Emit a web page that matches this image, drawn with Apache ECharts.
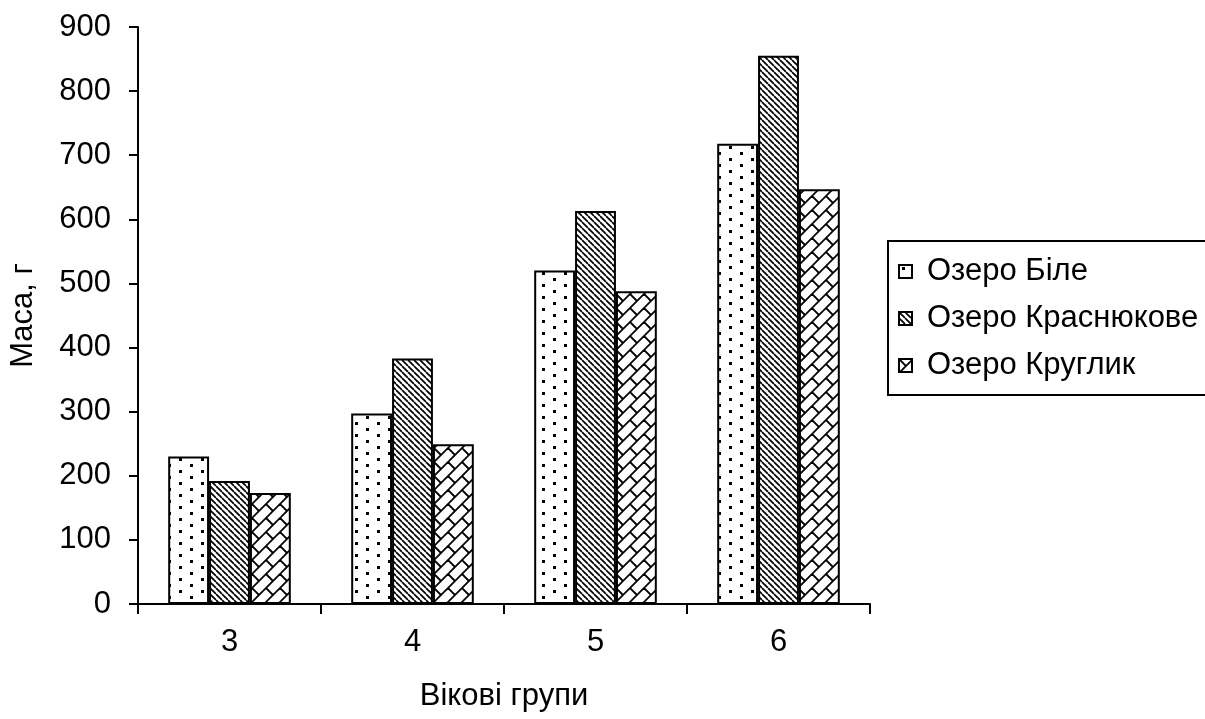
<!DOCTYPE html>
<html><head><meta charset="utf-8">
<script src="https://cdn.jsdelivr.net/npm/echarts@6/dist/echarts.min.js"></script>
<style>html,body{margin:0;padding:0;background:#fff}#c{width:1205px;height:719px}</style>
</head><body><div id="c"></div>
<script>
const categories = ['3', '4', '5', '6'];
const seriesNames = ['Озеро Біле', 'Озеро Краснюкове', 'Озеро Круглик'];
const valuesBile = [230, 297, 520, 718];
const valuesKrasn = [192, 383, 613, 855];
const valuesKrug = [173, 249, 488, 647];
const yTicks = {min: 0, max: 900, interval: 100};

function makeTile(w, h, draw) {
  const c = document.createElement('canvas');
  c.width = w; c.height = h;
  const ctx = c.getContext('2d');
  ctx.fillStyle = '#fff'; ctx.fillRect(0, 0, w, h);
  ctx.fillStyle = '#000'; ctx.strokeStyle = '#000';
  draw(ctx);
  return c;
}
const dots = makeTile(22, 12, ctx => {
  ctx.fillRect(3, 2, 3, 3);
  ctx.fillRect(14, 8, 3, 3);
});
const hatch = makeTile(6, 6, ctx => {
  ctx.lineWidth = 1.7;
  for (let k = -6; k <= 12; k += 6) {
    ctx.beginPath(); ctx.moveTo(k, 0); ctx.lineTo(k + 6, 6); ctx.stroke();
  }
});
const brick = makeTile(28, 28, ctx => {
  ctx.lineWidth = 1.8;
  for (let s = -28; s <= 84; s += 14) {
    ctx.beginPath(); ctx.moveTo(s - 35, 35); ctx.lineTo(s + 35, -35); ctx.stroke();
  }
  for (let b = -4; b <= 8; b++) {
    const s0 = 14 * b, s1 = s0 + 14;
    const off = ((b % 2) + 2) % 2 === 0 ? 0 : 14;
    for (let c = -56 + off; c <= 56; c += 28) {
      ctx.beginPath();
      ctx.moveTo((s0 + c) / 2, (s0 - c) / 2);
      ctx.lineTo((s1 + c) / 2, (s1 - c) / 2);
      ctx.stroke();
    }
  }
});
const fills = [dots, hatch, brick];
const data = [valuesBile, valuesKrasn, valuesKrug];

const font = 'Liberation Sans, Arial, sans-serif';
const fs = 31;
const chart = echarts.init(document.getElementById('c'));
chart.setOption({
  animation: false,
  backgroundColor: '#fff',
  grid: {left: 138, right: 335, top: 27, bottom: 115},
  legend: {
    orient: 'vertical', left: 888, top: 241,
    padding: [15, 60, 14, 10],
    itemGap: 16,
    itemWidth: 13, itemHeight: 13,
    icon: 'rect',
    borderColor: '#000', borderWidth: 2,
    textStyle: {fontFamily: font, fontSize: fs, color: '#000', padding: [0, 0, 0, 10]},
    data: seriesNames
  },
  xAxis: {
    type: 'category', data: categories,
    name: 'Вікові групи', nameLocation: 'middle', nameGap: 77,
    nameTextStyle: {fontFamily: font, fontSize: fs, color: '#000'},
    axisLine: {lineStyle: {color: '#000', width: 2}},
    axisTick: {show: true, inside: false, length: 10, lineStyle: {color: '#000', width: 2}},
    axisLabel: {fontFamily: font, fontSize: fs, color: '#000', margin: 23}
  },
  yAxis: {
    type: 'value', min: yTicks.min, max: yTicks.max, interval: yTicks.interval,
    name: 'Маса, г', nameLocation: 'middle', nameGap: 99,
    nameTextStyle: {fontFamily: font, fontSize: fs, color: '#000'},
    axisLine: {show: true, lineStyle: {color: '#000', width: 2}},
    axisTick: {show: true, inside: false, length: 9, lineStyle: {color: '#000', width: 2}},
    splitLine: {show: false},
    axisLabel: {fontFamily: font, fontSize: fs, color: '#000', margin: 27}
  },
  series: seriesNames.map((n, i) => ({
    name: n, type: 'bar', data: data[i],
    barGap: '0%', barCategoryGap: '33%',
    itemStyle: {color: {image: fills[i], repeat: 'repeat'}, borderColor: '#000', borderWidth: 2}
  }))
});
</script></body></html>
